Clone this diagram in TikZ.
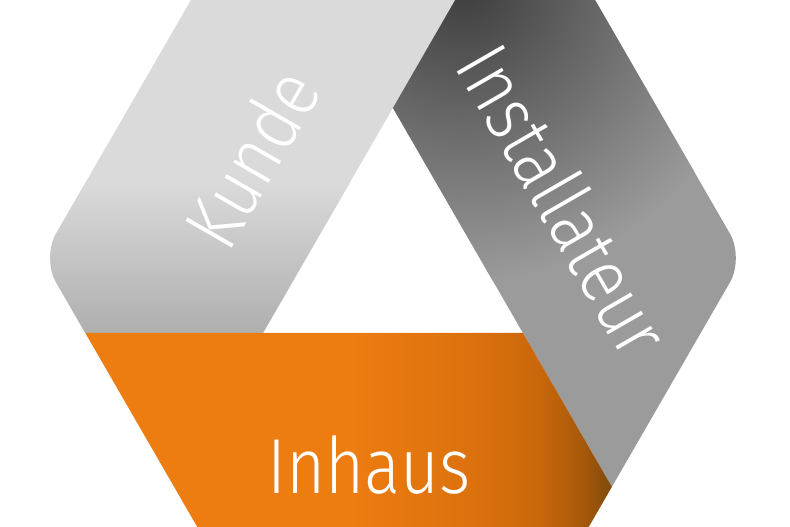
\documentclass[tikz,border=0pt]{standalone}
\usepackage{fontspec}
\newfontfamily\bandfont[FakeStretch=0.86]{Fira Sans Light}
\definecolor{kundeLight}{HTML}{DADADA}
\definecolor{kundeDark}{HTML}{AFAFAF}
\definecolor{installGrey}{HTML}{9B9B9B}
\definecolor{installDark}{HTML}{3C3C3C}
\definecolor{inhausOrange}{HTML}{EE7D11}
\definecolor{inhausA}{HTML}{DA700D}
\definecolor{inhausB}{HTML}{C9670C}
\definecolor{inhausC}{HTML}{A85A0A}
\definecolor{inhausBrown}{HTML}{7F4A0B}
\pgfdeclarehorizontalshading{inhausshade}{100bp}{color(0bp)=(inhausOrange); color(53bp)=(inhausOrange); color(63.6bp)=(inhausA); color(68.3bp)=(inhausB); color(71.5bp)=(inhausC); color(74bp)=(inhausBrown); color(100bp)=(inhausBrown)}
\tikzset{bandlabel/.style={text=white, inner sep=0pt, font=\bandfont\fontsize{78}{78}\selectfont}}

\begin{document}
\begin{tikzpicture}[x=1pt,y=1pt]
		\clip (0,0) rectangle (790,527);
		\fill[white] (0,0) rectangle (790,527);
		\begin{scope}
		\clip[rounded corners=28pt] (42,269) -- (217.5,573) -- (568.5,573) -- (744,269) -- (568.5,-35) -- (217.5,-35) -- cycle;% hexagon
		% Kunde
		\begin{scope}
		\clip (-10,194) -- (263,194) -- (461,537) -- (-10,537) -- cycle;
		\fill[kundeLight] (-10,180) rectangle (480,540);
		\shade[bottom color=kundeDark, top color=kundeLight] (-10,194) rectangle (480,345);
		\end{scope}
		% Installateur
		\begin{scope}
		\clip (461,537) -- (393,419) -- (661,-45) -- (800,-45) -- (800,537) -- cycle;
		\fill[installGrey] (380,-45) rectangle (800,540);
		\shade[inner color=installDark, outer color=installGrey] (463,545) circle (300);
		\end{scope}
		% Inhaus
		\begin{scope}
		\clip (-10,194) -- (523,194) -- (661,-45) -- (-10,-45) -- cycle;
		\shade[shading=inhausshade] (-10,-45) rectangle (625,200);
		\end{scope}
		\end{scope}
		\node[bandlabel, rotate=60] (kunde) at (251,369) {Kunde};
		\node[bandlabel, rotate=-60] (installateur) at (564,327) {Installateur};
		\node[bandlabel] (inhaus) at (369,62) {Inhaus};
\end{tikzpicture}
\end{document}
